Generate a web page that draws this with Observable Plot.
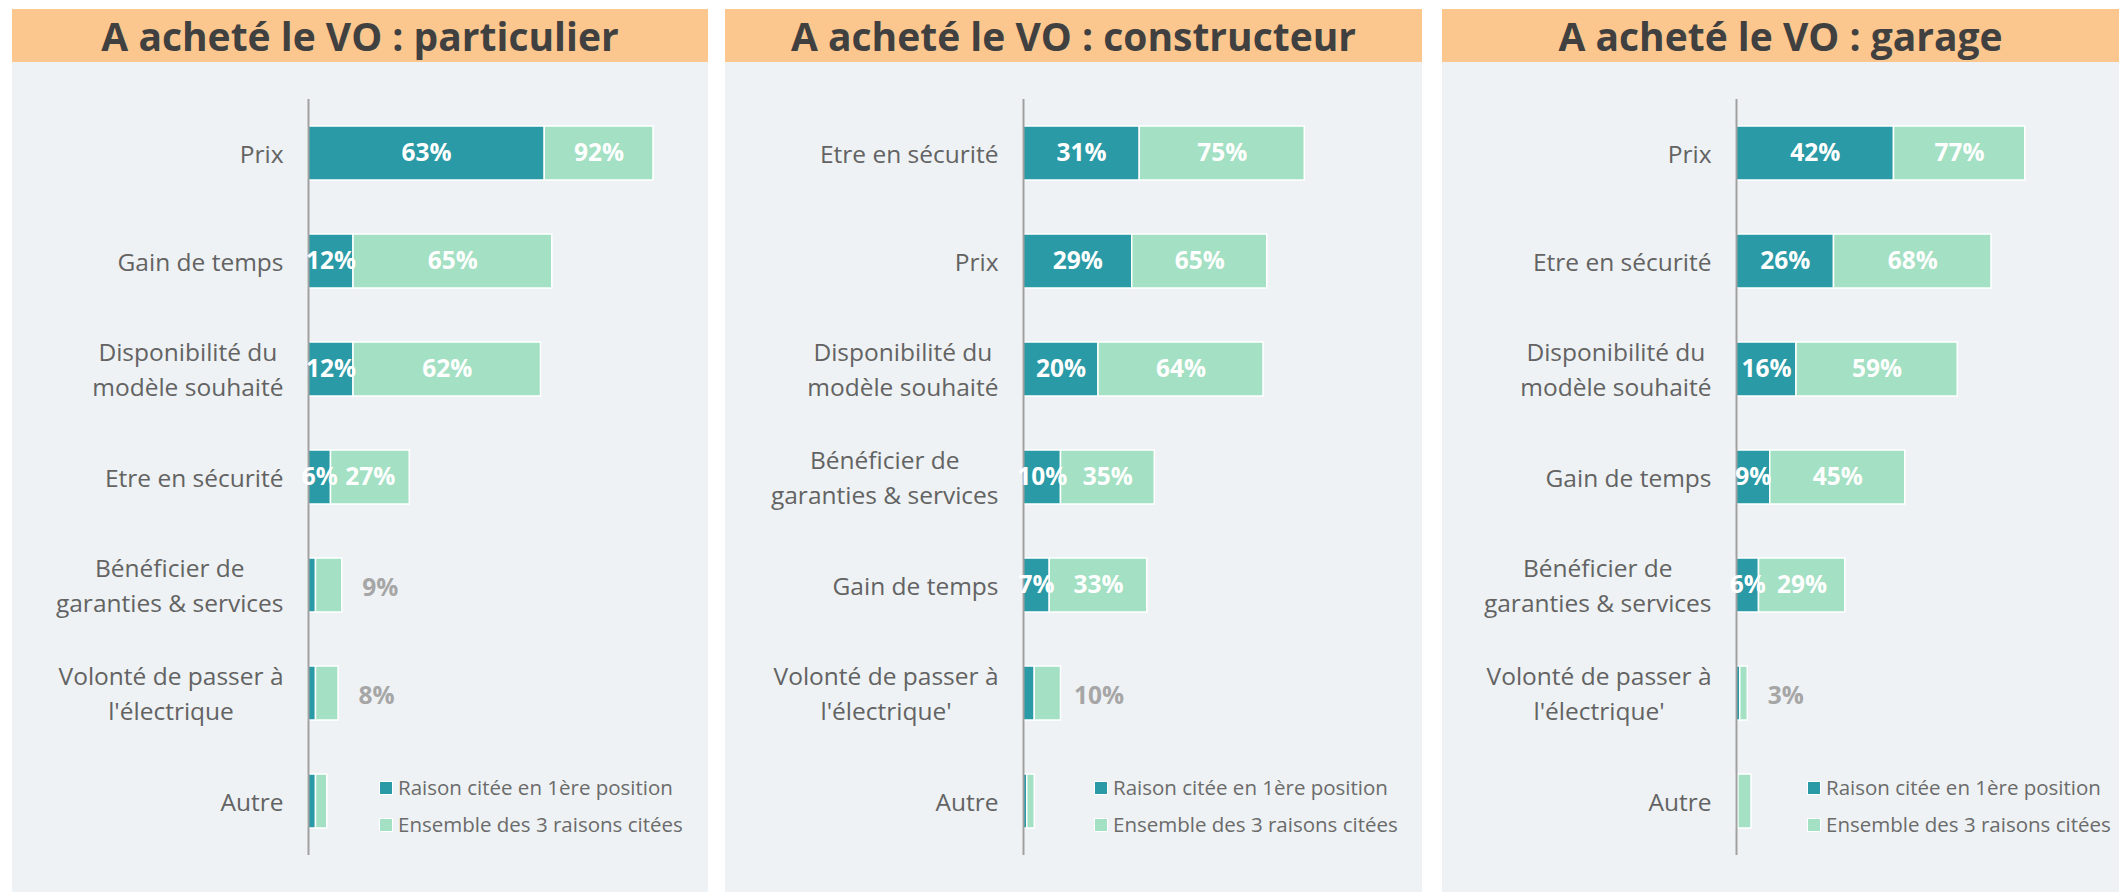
<!DOCTYPE html>
<html><head><meta charset="utf-8">
<script src="https://cdn.jsdelivr.net/npm/d3@7"></script>
<script src="https://cdn.jsdelivr.net/npm/@observablehq/plot@0.6"></script>
<style>
html,body{margin:0;padding:0;background:#fff;width:2119px;height:892px;overflow:hidden;font-family:"Open Sans",sans-serif;}
.panel{position:absolute;top:9px;height:883px;background:#eef2f4;}
.header{height:53px;background:#fbc78e;display:flex;align-items:center;justify-content:center;font-weight:700;font-size:39px;color:#404040;white-space:nowrap;}
.legend{position:absolute;font-size:20.5px;color:#6b6b6b;line-height:37px;white-space:nowrap;}
.legend .sw{display:inline-block;width:12px;height:12px;margin-right:6px;vertical-align:middle;position:relative;top:-2px;outline:1px solid #fff;}
</style>
</head><body>
<script>
// ---- data ----
const titles = ["A acheté le VO : particulier", "A acheté le VO : constructeur", "A acheté le VO : garage"];
const legendLabels = ["Raison citée en 1ère position", "Ensemble des 3 raisons citées"];

const catsParticulier = ["Prix", "Gain de temps", "Disponibilité du\nmodèle souhaité", "Etre en sécurité", "Bénéficier de\ngaranties & services", "Volonté de passer à\nl'électrique", "Autre"];
const firstParticulier = [63, 12, 12, 6, 2, 2, 2];
const totalParticulier = [92, 65, 62, 27, 9, 8, 5];

const catsConstructeur = ["Etre en sécurité", "Prix", "Disponibilité du\nmodèle souhaité", "Bénéficier de\ngaranties & services", "Gain de temps", "Volonté de passer à\nl'électrique'", "Autre"];
const firstConstructeur = [31, 29, 20, 10, 7, 3, 1];
const totalConstructeur = [75, 65, 64, 35, 33, 10, 3];

const catsGarage = ["Prix", "Etre en sécurité", "Disponibilité du\nmodèle souhaité", "Gain de temps", "Bénéficier de\ngaranties & services", "Volonté de passer à\nl'électrique'", "Autre"];
const firstGarage = [42, 26, 16, 9, 6, 1, 0.5];
const totalGarage = [77, 68, 59, 45, 29, 3, 4];

// ---- styling / layout ----
const TEAL = "#2a9aa6", MINT = "#a4e0c3";
const layout = [
  {left: 12, width: 696, ml: 296},
  {left: 725, width: 697, ml: 298},
  {left: 1442, width: 677, ml: 294}
];
const datasets = [
  [catsParticulier, firstParticulier, totalParticulier],
  [catsConstructeur, firstConstructeur, totalConstructeur],
  [catsGarage, firstGarage, totalGarage]
];

datasets.forEach(([cats, first, total], k) => {
  const L = layout[k];
  const rows = cats.map((c, i) => ({cat: c, first: first[i], total: total[i]}));
  const panel = document.createElement("div");
  panel.className = "panel";
  panel.style.left = L.left + "px";
  panel.style.width = L.width + "px";
  const header = document.createElement("div");
  header.className = "header";
  header.textContent = titles[k];
  panel.appendChild(header);

  const chart = Plot.plot({
    width: L.width,
    height: 830,
    marginTop: 37,
    marginBottom: 37,
    marginLeft: L.ml,
    marginRight: L.width - L.ml - 375,
    style: {background: "transparent", fontFamily: "Open Sans", overflow: "visible"},
    x: {domain: [0, 100], axis: null},
    y: {domain: cats, paddingInner: 0.5, paddingOuter: 0.25, axis: null},
    marks: [
      Plot.barX(rows, {y: "cat", x1: () => 0, x2: "first", fill: TEAL, stroke: "#fff", strokeWidth: 1.5}),
      Plot.barX(rows, {y: "cat", x1: "first", x2: "total", fill: MINT, stroke: "#fff", strokeWidth: 1.5}),
      Plot.ruleX([0], {stroke: "#a0a0a0", strokeWidth: 2}),
      Plot.text(rows, {y: "cat", text: "cat", frameAnchor: "left", dx: -25, dy: -2, textAnchor: "end",
        fontSize: 24.5, fill: "#636363", lineHeight: 1.44}),
      Plot.text(rows, {filter: d => d.first >= 5, y: "cat", x: d => d.first / 2, text: d => d.first + "%",
        fill: "#fff", fontWeight: "bold", fontSize: 24.5}),
      Plot.text(rows, {filter: d => d.total >= 20, y: "cat", x: d => (d.first + d.total) / 2, text: d => d.total + "%",
        fill: "#fff", fontWeight: "bold", fontSize: 24.5}),
      Plot.text(rows, {filter: d => d.total < 20 && d.cat !== "Autre", y: "cat", x: "total", dx: 38, dy: 3, text: d => d.total + "%",
        fill: "#a6a6a6", fontWeight: "bold", fontSize: 24.5})
    ]
  });
  panel.appendChild(chart);

  const leg = document.createElement("div");
  leg.className = "legend";
  leg.style.left = (L.ml + 72) + "px";
  leg.style.top = "760px";
  leg.innerHTML = `<div><span class="sw" style="background:${TEAL}"></span>${legendLabels[0]}</div>` +
                  `<div><span class="sw" style="background:${MINT}"></span>${legendLabels[1]}</div>`;
  panel.appendChild(leg);
  document.body.appendChild(panel);

  // center multi-line category labels as blocks (right edge kept at the same place)
  chart.querySelectorAll("text").forEach(t => {
    const spans = t.querySelectorAll("tspan");
    if (spans.length > 1) {
      let W = 0;
      spans.forEach(s => { W = Math.max(W, s.getComputedTextLength()); });
      t.setAttribute("text-anchor", "middle");
      spans.forEach(s => s.setAttribute("x", -W / 2));
    }
  });
});
</script>
</body></html>
